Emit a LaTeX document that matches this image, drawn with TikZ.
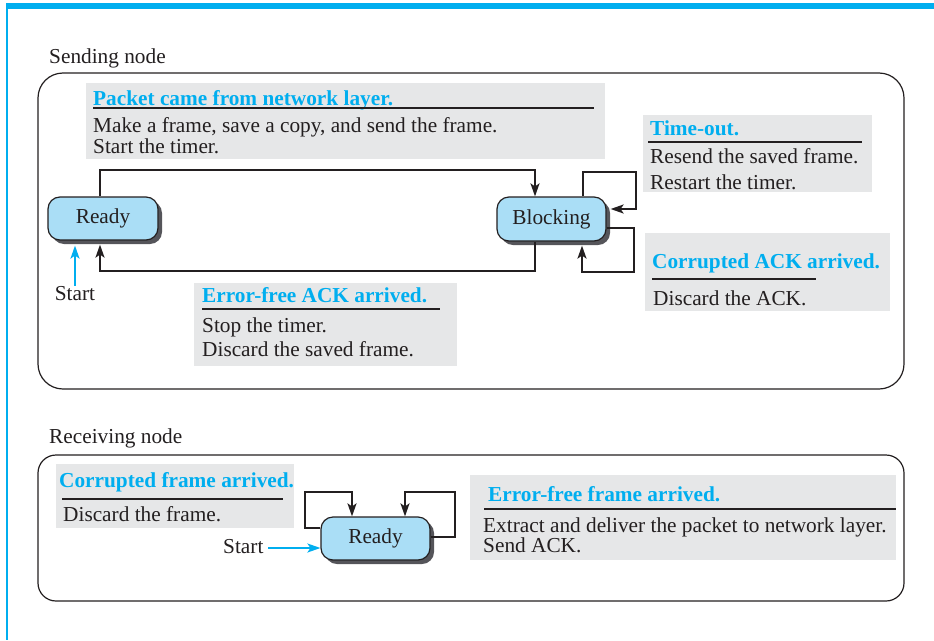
\documentclass[tikz,border=0pt]{standalone}
\usepackage{fontspec}
\setmainfont{Liberation Serif}
\usetikzlibrary{arrows.meta,shadows}
\definecolor{cyanA}{RGB}{0,174,239}
\definecolor{stfill}{RGB}{170,222,246}
\definecolor{grayA}{RGB}{230,231,232}
\definecolor{inkA}{RGB}{35,31,32}
\definecolor{shadowA}{RGB}{85,85,90}
\tikzset{
  txt/.style={inner sep=0pt, anchor=base west, text=inkA, font=\fontsize{21.3}{24}\selectfont},
  ttl/.style={inner sep=0pt, anchor=base west, text=cyanA, font=\fontsize{21.3}{24}\selectfont\bfseries},
  gbox/.style={fill=grayA, draw=none, inner sep=0pt},
  container/.style={draw=inkA, line width=1.2pt, inner sep=0pt},
  state/.style={draw=inkA, fill=stfill, line width=1.2pt, rounded corners=12pt, inner sep=0pt,
    text=inkA, font=\fontsize{21.3}{24}\selectfont,
    drop shadow={shadow xshift=4pt, shadow yshift=-4pt, fill=shadowA, opacity=1}},
  uline/.style={draw=inkA, line width=1.5pt},
  arr/.style={draw=inkA, line width=1.8pt, -{Stealth[length=13pt,width=9pt,inset=3pt]}},
  startarr/.style={draw=cyanA, line width=1.6pt, -{Stealth[length=13pt,width=9pt,inset=3pt]}},
}
\begin{document}
\begin{tikzpicture}[x=1pt,y=-1pt]
\useasboundingbox (0,0) rectangle (934,640);
% frame
\fill[cyanA] (6,3) rectangle (934,9);
\fill[cyanA] (6,3) rectangle (8,640);

% ---------- Sending node ----------
\node[txt] (sendlbl) at (49,63) {Sending node};
\node[container, rounded corners=25pt, minimum width=866pt, minimum height=316pt] (sendbox) at (471,231) {};

\node[gbox, minimum width=519pt, minimum height=76pt] (pbox) at (345.5,121) {};
\node[ttl] (pttl) at (93,105) {Packet came from network layer.};
\coordinate (pu1) at (93,108); \coordinate (pu2) at (594,108);
\draw[uline] (pu1) -- (pu2);
\node[txt] (pl1) at (93,132) {Make a frame, save a copy, and send the frame.};
\node[txt] (pl2) at (93,153) {Start the timer.};

\node[gbox, minimum width=229pt, minimum height=77pt] (tbox) at (757.5,153.5) {};
\node[ttl] (tttl) at (650,135) {Time-out.};
\coordinate (tu1) at (648,142); \coordinate (tu2) at (862,142);
\draw[uline] (tu1) -- (tu2);
\node[txt] (tl1) at (650,163) {Resend the saved frame.};
\node[txt] (tl2) at (650,189) {Restart the timer.};

\node[gbox, minimum width=245pt, minimum height=78pt] (cbox) at (767.5,272) {};
\node[ttl] (cttl) at (652,268) {Corrupted ACK arrived.};
\coordinate (cu1) at (652,279); \coordinate (cu2) at (816,279);
\draw[uline] (cu1) -- (cu2);
\node[txt] (cl1) at (653,305) {Discard the ACK.};

\node[gbox, minimum width=263pt, minimum height=83pt] (ebox) at (325.5,324.5) {};
\node[ttl] (ettl) at (202,302) {Error-free ACK arrived.};
\coordinate (eu1) at (202,309); \coordinate (eu2) at (440,309);
\draw[uline] (eu1) -- (eu2);
\node[txt] (el1) at (202,332) {Stop the timer.};
\node[txt] (el2) at (202,356) {Discard the saved frame.};

\node[state, minimum width=110pt, minimum height=43pt] (sReady) at (103,218.5) {Ready};
\node[state, minimum width=109pt, minimum height=44pt] (sBlock) at (551.5,219) {Blocking};

\coordinate (t1) at (100,170); \coordinate (t2) at (535,170);
\draw[arr] (sReady.north -| t1) -- (t1) -- (t2) -- (sBlock.north -| t2);
\coordinate (b1) at (535,271); \coordinate (b2) at (100,271);
\draw[arr, shorten >=4pt] (sBlock.south -| b1) -- (b1) -- (b2) -- (sReady.south -| b2);

\coordinate (o1) at (583,172); \coordinate (o2) at (636,172); \coordinate (o3) at (636,209);
\draw[arr, shorten >=4pt] (sBlock.north -| o1) -- (o1) -- (o2) -- (o3) -- (sBlock.east |- o3);
\coordinate (k1) at (634,228); \coordinate (k2) at (634,272); \coordinate (k3) at (582,272);
\draw[arr, shorten >=4pt] (sBlock.east |- k1) -- (k1) -- (k2) -- (k3) -- (sBlock.south -| k3);

\node[txt, anchor=base] (sstart) at (75,300) {Start};
\draw[startarr, shorten >=5pt] (sstart.north) -- (sReady.south -| sstart.north);

% ---------- Receiving node ----------
\node[txt] (recvlbl) at (49,443) {Receiving node};
\node[container, rounded corners=18pt, minimum width=866pt, minimum height=146pt] (recvbox) at (471,528) {};

\node[gbox, minimum width=238pt, minimum height=64pt] (rcbox) at (175,496) {};
\node[ttl] (rcttl) at (59,487) {Corrupted frame arrived.};
\coordinate (ru1) at (62,499); \coordinate (ru2) at (283,499);
\draw[uline] (ru1) -- (ru2);
\node[txt] (rcl1) at (63,521) {Discard the frame.};

\node[gbox, minimum width=426pt, minimum height=85pt] (rebox) at (683,517.5) {};
\node[ttl] (rettl) at (488,501) {Error-free frame arrived.};
\coordinate (re1) at (484,509); \coordinate (re2) at (896,509);
\draw[uline] (re1) -- (re2);
\node[txt] (rel1) at (483,532) {Extract and deliver the packet to network layer.};
\node[txt] (rel2) at (483,552) {Send ACK.};

\node[state, minimum width=109pt, minimum height=43pt] (rReady) at (375.5,538.5) {Ready};

\coordinate (l1) at (305,528); \coordinate (l2) at (305,492); \coordinate (l3) at (352,492);
\draw[arr] (rReady.west |- l1) -- (l1) -- (l2) -- (l3) -- (rReady.north -| l3);
\coordinate (m1) at (455,537); \coordinate (m2) at (455,492); \coordinate (m3) at (405,492);
\draw[arr] (rReady.east |- m1) -- (m1) -- (m2) -- (m3) -- (rReady.north -| m3);

\node[txt] (rstart) at (223,553) {Start};
\coordinate (rs) at (268,548);
\draw[startarr] (rs) -- (rReady.west |- rs);
\end{tikzpicture}
\end{document}
